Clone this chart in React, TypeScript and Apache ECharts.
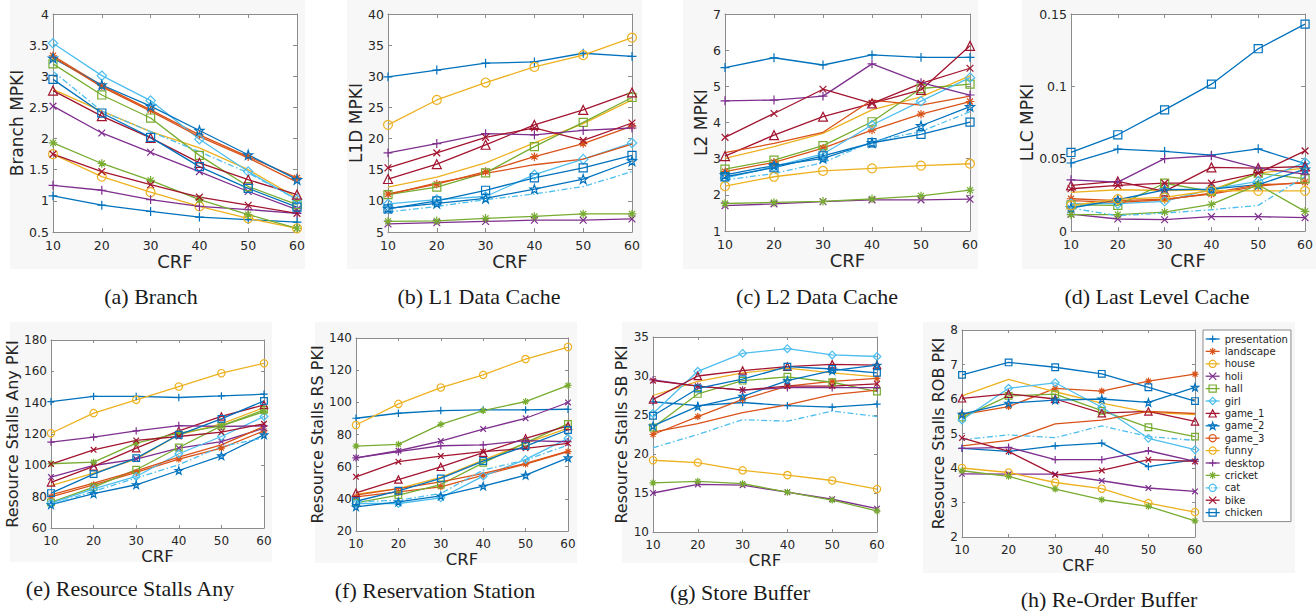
import React, { useEffect, useRef } from 'react';
import * as echarts from 'echarts';

// ---------------- DATA ----------------
const CRF = [10, 20, 30, 40, 50, 60];

const VIDEOS = [
  'presentation', 'landscape', 'house', 'holi', 'hall', 'girl', 'game_1', 'game_2',
  'game_3', 'funny', 'desktop', 'cricket', 'cat', 'bike', 'chicken',
];

// rows follow VIDEOS order
const branchMPKI = [
  [1.08, 0.93, 0.83, 0.74, 0.70, 0.66],
  [3.33, 2.85, 2.46, 2.06, 1.71, 1.37],
  [2.79, 2.44, 2.11, 1.85, 1.50, 1.05],
  [2.52, 2.09, 1.78, 1.47, 1.15, 0.86],
  [3.20, 2.70, 2.33, 1.73, 1.23, 0.94],
  [3.53, 3.01, 2.61, 1.99, 1.47, 1.02],
  [2.77, 2.36, 2.01, 1.61, 1.34, 1.10],
  [3.29, 2.86, 2.52, 2.13, 1.74, 1.34],
  [3.31, 2.83, 2.44, 2.03, 1.69, 1.30],
  [1.75, 1.39, 1.14, 0.91, 0.72, 0.56],
  [1.25, 1.17, 1.02, 0.91, 0.86, 0.80],
  [1.93, 1.60, 1.33, 1.02, 0.78, 0.56],
  [3.08, 2.44, 2.11, 1.79, 1.45, 1.02],
  [1.75, 1.47, 1.26, 1.06, 0.93, 0.80],
  [2.95, 2.41, 2.02, 1.55, 1.20, 0.90],
];

const l1dMPKI = [
  [29.9, 31.0, 32.1, 32.3, 33.7, 33.2],
  [11.1, 12.7, 14.7, 17.1, 19.2, 22.0],
  [12.2, 13.8, 16.1, 19.3, 22.4, 26.2],
  [6.3, 6.5, 6.7, 6.9, 6.9, 7.1],
  [11.0, 12.2, 14.5, 18.7, 22.6, 26.6],
  [9.5, 10.2, 10.7, 14.2, 16.7, 19.3],
  [13.5, 15.9, 19.0, 22.2, 24.6, 27.4],
  [8.8, 9.6, 10.4, 11.9, 13.5, 16.4],
  [11.0, 12.9, 14.4, 15.8, 16.7, 19.1],
  [22.2, 26.2, 29.0, 31.5, 33.4, 36.2],
  [17.7, 19.2, 20.8, 20.6, 21.3, 21.7],
  [6.7, 6.8, 7.2, 7.5, 7.9, 7.9],
  [8.2, 9.1, 10.2, 11.1, 12.3, 14.7],
  [15.3, 17.7, 20.2, 21.7, 19.7, 22.5],
  [8.7, 10.0, 11.7, 13.7, 15.3, 17.3],
];

const l2MPKI = [
  [5.52, 5.79, 5.59, 5.87, 5.80, 5.80],
  [2.64, 2.90, 3.29, 3.79, 4.23, 4.58],
  [3.01, 3.33, 3.70, 4.35, 4.71, 5.29],
  [1.70, 1.75, 1.81, 1.86, 1.86, 1.88],
  [2.71, 2.96, 3.36, 4.02, 4.94, 5.06],
  [2.46, 2.78, 3.13, 3.93, 4.59, 5.24],
  [3.07, 3.65, 4.16, 4.53, 4.90, 6.12],
  [2.55, 2.81, 3.01, 3.44, 3.91, 4.44],
  [3.17, 3.42, 3.73, 4.62, 4.48, 4.73],
  [2.24, 2.50, 2.66, 2.73, 2.81, 2.86],
  [4.60, 4.62, 4.73, 5.62, 5.10, 4.76],
  [1.76, 1.79, 1.82, 1.89, 1.97, 2.13],
  [2.41, 2.59, 2.89, 3.47, 3.75, 4.30],
  [3.59, 4.25, 4.92, 4.53, 5.08, 5.50],
  [2.50, 2.75, 3.08, 3.44, 3.67, 4.01],
];

const llcMPKI = [
  [0.047, 0.0566, 0.055, 0.0524, 0.0568, 0.0465],
  [0.0223, 0.021, 0.022, 0.0255, 0.031, 0.0338],
  [0.0267, 0.0285, 0.028, 0.0285, 0.040, 0.0435],
  [0.0117, 0.0083, 0.0078, 0.0099, 0.0099, 0.0092],
  [0.018, 0.0177, 0.033, 0.0274, 0.040, 0.036],
  [0.0189, 0.0189, 0.0205, 0.029, 0.0343, 0.0474],
  [0.0315, 0.0343, 0.0274, 0.044, 0.0435, 0.0446],
  [0.0159, 0.0216, 0.0285, 0.029, 0.032, 0.0428],
  [0.021, 0.0198, 0.0216, 0.0262, 0.032, 0.0331],
  [0.0177, 0.022, 0.0232, 0.028, 0.0278, 0.0278],
  [0.0354, 0.0338, 0.050, 0.052, 0.0435, 0.0393],
  [0.0113, 0.0113, 0.0131, 0.0184, 0.032, 0.0136],
  [0.0159, 0.0106, 0.0124, 0.0147, 0.0177, 0.0377],
  [0.0292, 0.0315, 0.0331, 0.0331, 0.040, 0.0554],
  [0.0543, 0.0665, 0.0837, 0.1015, 0.126, 0.143],
];

const stallsAnyPKI = [
  [140.7, 144.0, 144.0, 143.3, 144.3, 145.4],
  [79.8, 87.6, 95.5, 104.0, 111.0, 122.0],
  [87.0, 95.0, 104.0, 119.5, 126.5, 136.9],
  [92.5, 99.9, 104.0, 111.0, 115.2, 123.7],
  [76.4, 86.1, 97.2, 111.4, 125.2, 135.4],
  [75.9, 84.9, 92.9, 107.4, 118.4, 131.2],
  [89.1, 99.3, 111.0, 122.0, 131.2, 138.6],
  [74.9, 81.9, 87.6, 96.7, 106.1, 119.5],
  [81.2, 88.7, 96.5, 105.2, 113.1, 124.8],
  [120.5, 133.3, 141.8, 150.3, 158.8, 165.1],
  [114.8, 118.0, 122.0, 125.4, 124.8, 125.2],
  [101.0, 102.0, 114.2, 120.5, 125.2, 134.3],
  [74.9, 83.4, 91.9, 100.4, 112.0, 117.5],
  [100.8, 109.9, 115.9, 118.4, 121.2, 126.5],
  [82.3, 94.4, 104.6, 119.5, 129.7, 141.1],
];

const stallsRSPKI = [
  [90.1, 93.2, 94.9, 95.3, 95.3, 95.7],
  [41.2, 44.3, 47.5, 54.7, 61.6, 69.3],
  [42.9, 46.4, 53.3, 64.1, 74.5, 83.9],
  [65.5, 69.9, 75.9, 83.4, 90.1, 99.9],
  [37.5, 42.3, 48.9, 62.4, 74.9, 86.6],
  [37.1, 37.1, 40.6, 54.1, 64.5, 77.6],
  [43.7, 52.0, 59.9, 68.7, 77.6, 85.3],
  [35.0, 38.1, 41.8, 47.9, 54.7, 65.5],
  [42.3, 46.4, 50.6, 55.8, 62.0, 69.7],
  [85.9, 99.0, 109.2, 117.1, 126.9, 134.4],
  [65.5, 69.3, 73.0, 73.5, 76.2, 75.5],
  [72.8, 73.9, 86.3, 94.9, 100.5, 110.5],
  [38.1, 39.1, 43.3, 57.9, 64.1, 73.5],
  [53.7, 63.1, 66.6, 69.3, 71.4, 74.5],
  [38.5, 45.0, 52.7, 63.5, 72.8, 82.8],
];

const stallsSBPKI = [
  [26.7, 26.2, 26.6, 26.2, 26.0, 26.4],
  [22.5, 24.8, 27.0, 28.7, 29.3, 29.7],
  [27.5, 29.3, 30.4, 31.0, 30.4, 29.9],
  [15.0, 16.1, 16.0, 15.1, 14.2, 13.0],
  [23.4, 27.7, 29.4, 29.9, 29.2, 28.0],
  [25.2, 30.6, 32.9, 33.5, 32.7, 32.5],
  [27.0, 30.0, 30.7, 31.2, 31.5, 31.4],
  [23.6, 26.1, 27.4, 29.4, 30.7, 31.4],
  [22.8, 23.9, 25.3, 26.3, 27.6, 28.2],
  [19.2, 18.9, 17.9, 17.3, 16.6, 15.5],
  [29.5, 28.7, 28.2, 28.5, 28.5, 28.5],
  [16.3, 16.5, 16.2, 15.1, 14.1, 12.7],
  [20.8, 22.5, 24.4, 24.2, 25.5, 24.8],
  [29.4, 28.7, 28.2, 28.7, 28.7, 29.0],
  [24.9, 28.4, 29.6, 31.2, 30.9, 30.4],
];

const stallsROBPKI = [
  [4.57, 4.48, 4.64, 4.72, 4.04, 4.24],
  [5.55, 5.78, 6.31, 6.23, 6.52, 6.72],
  [6.09, 6.57, 6.21, 5.88, 5.61, 5.55],
  [3.83, 3.82, 3.82, 3.63, 3.42, 3.32],
  [5.46, 6.09, 6.14, 5.66, 5.18, 4.91],
  [5.39, 6.31, 6.47, 5.76, 4.86, 4.53],
  [6.02, 6.15, 6.00, 5.59, 5.64, 5.35],
  [5.56, 5.88, 5.97, 6.00, 5.90, 6.34],
  [4.64, 4.80, 5.28, 5.39, 5.64, 5.58],
  [4.00, 3.87, 3.58, 3.40, 2.98, 2.72],
  [4.57, 4.60, 4.24, 4.24, 4.50, 4.19],
  [3.92, 3.76, 3.39, 3.08, 2.89, 2.47],
  [4.82, 4.96, 4.88, 5.22, 4.91, 4.80],
  [4.87, 4.48, 3.80, 3.93, 4.24, 4.19],
  [6.70, 7.06, 6.92, 6.73, 6.34, 5.94],
];

// ---------------- STYLE ----------------
const BLUE = '#0072BD';
const ORANGE = '#D95319';
const YELLOW = '#EDB120';
const PURPLE = '#7E2F8E';
const GREEN = '#77AC30';
const LBLUE = '#4DBEEE';
const RED = '#A2142F';
const CLEAR = 'rgba(255,255,255,0)';

function starPath() {
  const pts: string[] = [];
  for (let k = 0; k < 10; k++) {
    const r = k % 2 === 0 ? 10 : 3.9;
    const a = -Math.PI / 2 + (k * Math.PI) / 5;
    pts.push((r * Math.cos(a)).toFixed(2) + ',' + (r * Math.sin(a)).toFixed(2));
  }
  return 'path://M' + pts.join('L') + 'Z';
}

const SYM: Record<string, { symbol: string; scale: number }> = {
  plus: { symbol: 'path://M0,-10L0,10M-10,0L10,0', scale: 1.05 },
  star6: { symbol: 'path://M0,-10L0,10M-10,0L10,0M-7,-7L7,7M-7,7L7,-7', scale: 1.0 },
  cross: { symbol: 'path://M-7,-7L7,7M-7,7L7,-7', scale: 0.8 },
  square: { symbol: 'rect', scale: 0.95 },
  diamond: { symbol: 'diamond', scale: 1.1 },
  triangle: { symbol: 'triangle', scale: 1.05 },
  penta: { symbol: starPath(), scale: 1.05 },
  circle: { symbol: 'circle', scale: 1.05 },
  none: { symbol: 'none', scale: 1 },
};

const SERIES_STYLE = [
  { color: BLUE, marker: 'plus', dash: 'solid' },
  { color: ORANGE, marker: 'star6', dash: 'solid' },
  { color: YELLOW, marker: 'none', dash: 'solid' },
  { color: PURPLE, marker: 'cross', dash: 'solid' },
  { color: GREEN, marker: 'square', dash: 'solid' },
  { color: LBLUE, marker: 'diamond', dash: 'solid' },
  { color: RED, marker: 'triangle', dash: 'solid' },
  { color: BLUE, marker: 'penta', dash: 'solid' },
  { color: ORANGE, marker: 'none', dash: 'solid' },
  { color: YELLOW, marker: 'circle', dash: 'solid' },
  { color: PURPLE, marker: 'plus', dash: 'solid' },
  { color: GREEN, marker: 'star6', dash: 'solid' },
  { color: LBLUE, marker: 'none', dash: 'dashdot' },
  { color: RED, marker: 'cross', dash: 'solid' },
  { color: BLUE, marker: 'square', dash: 'solid' },
];

const ROW_STYLE = [
  { tickFont: 12.5, nameFont: 17, crfFont: 18, symbolSize: 8.5, tickLen: 4, crfGap: 18, xMargin: 7 },
  { tickFont: 12, nameFont: 16, crfFont: 16.5, symbolSize: 7, tickLen: 3, crfGap: 17, xMargin: 7 },
];

const PANELS = [
  { data: branchMPKI, yName: 'Branch MPKI', min: 0.5, max: 4, interval: 0.5, caption: '(a) Branch', row: 0,
    left: 53, top: 14, width: 244, height: 218, nameGap: 22, cx: 151, cy: 296 },
  { data: l1dMPKI, yName: 'L1D MPKI', min: 5, max: 40, interval: 5, caption: '(b) L1 Data Cache', row: 0,
    left: 388, top: 14, width: 244, height: 218, nameGap: 19, cx: 479, cy: 296 },
  { data: l2MPKI, yName: 'L2 MPKI', min: 1, max: 7, interval: 1, caption: '(c) L2 Data Cache', row: 0,
    left: 725, top: 14, width: 245, height: 217, nameGap: 12, cx: 817, cy: 296 },
  { data: llcMPKI, yName: 'LLC MPKI', min: 0, max: 0.15, interval: 0.05, caption: '(d) Last Level Cache', row: 0,
    left: 1071, top: 14, width: 235, height: 217, nameGap: 31, cx: 1157, cy: 296 },
  { data: stallsAnyPKI, yName: 'Resource Stalls Any PKI', min: 60, max: 180, interval: 20, caption: '(e) Resource Stalls Any', row: 1,
    left: 51, top: 340, width: 213, height: 188, nameGap: 22, cx: 130, cy: 588 },
  { data: stallsRSPKI, yName: 'Resource Stalls RS PKI', min: 20, max: 140, interval: 20, caption: '(f) Reservation Station', row: 1,
    left: 356, top: 338, width: 212, height: 193, nameGap: 22, cx: 435, cy: 590 },
  { data: stallsSBPKI, yName: 'Resource Stalls SB PKI', min: 10, max: 35, interval: 5, caption: '(g) Store Buffer', row: 1,
    left: 653, top: 337, width: 224, height: 195, nameGap: 15, cx: 740, cy: 592 },
  { data: stallsROBPKI, yName: 'Resource Stalls ROB PKI', min: 2, max: 8, interval: 1, caption: '(h) Re-Order Buffer', row: 1,
    left: 962, top: 330, width: 233, height: 207, nameGap: 13, cx: 1109, cy: 599 },
];

// faint grey figure backgrounds behind each panel [x, y, w, h]
const PANEL_BG = [
  [10, 0, 295, 269], [347, 0, 295, 269], [683, 0, 295, 269], [1022, 0, 294, 269],
  [10, 322, 262, 240], [315, 322, 262, 241], [622, 322, 256, 241], [923, 322, 372, 251],
];

const AXIS_COLOR = '#8c8c8c';
const TEXT_COLOR = '#262626';
const SANS = 'DejaVu Sans';

function buildOption() {
  const grid: any[] = [];
  const xAxis: any[] = [];
  const yAxis: any[] = [];
  const series: any[] = [];
  const graphic: any[] = [];

  PANEL_BG.forEach((r) => {
    graphic.push({
      type: 'rect', z: -10, silent: true,
      shape: { x: r[0], y: r[1], width: r[2], height: r[3] },
      style: { fill: '#f7f7f8' },
    });
  });

  PANELS.forEach((p, i) => {
    const rs = ROW_STYLE[p.row];
    grid.push({ left: p.left, top: p.top, width: p.width, height: p.height, show: true, backgroundColor: '#ffffff', borderWidth: 0 });
    const axisLine = { show: true, onZero: false, lineStyle: { color: AXIS_COLOR, width: 1 } };
    const axisTick = { show: true, inside: true, length: rs.tickLen, lineStyle: { color: AXIS_COLOR, width: 1 } };
    const xLabel = { color: TEXT_COLOR, fontSize: rs.tickFont, fontFamily: SANS, margin: rs.xMargin, lineHeight: 12 };
    const yLabel = { color: TEXT_COLOR, fontSize: rs.tickFont, fontFamily: SANS, margin: 4, lineHeight: 10 };
    xAxis.push({
      type: 'value', gridIndex: i, min: 10, max: 60, interval: 10, position: 'bottom',
      axisLine, axisTick, axisLabel: xLabel, splitLine: { show: false },
      name: 'CRF', nameLocation: 'middle', nameGap: rs.crfGap,
      nameTextStyle: { color: TEXT_COLOR, fontSize: rs.crfFont, fontFamily: SANS },
    });
    xAxis.push({
      type: 'value', gridIndex: i, min: 10, max: 60, interval: 10, position: 'top',
      axisLine, axisTick, axisLabel: { show: false }, splitLine: { show: false },
    });
    yAxis.push({
      type: 'value', gridIndex: i, min: p.min, max: p.max, interval: p.interval, position: 'left',
      axisLine, axisTick, axisLabel: yLabel, splitLine: { show: false },
      name: p.yName, nameLocation: 'middle', nameGap: p.nameGap,
      nameTextStyle: { color: TEXT_COLOR, fontSize: rs.nameFont, fontFamily: SANS },
    });
    yAxis.push({
      type: 'value', gridIndex: i, min: p.min, max: p.max, interval: p.interval, position: 'right',
      axisLine, axisTick, axisLabel: { show: false }, splitLine: { show: false },
    });

    VIDEOS.forEach((name, k) => {
      const st = SERIES_STYLE[k];
      const sym = SYM[st.marker];
      series.push({
        type: 'line',
        name,
        xAxisIndex: 2 * i,
        yAxisIndex: 2 * i,
        data: CRF.map((x, j) => [x, p.data[k][j]]),
        symbol: sym.symbol,
        symbolSize: rs.symbolSize * sym.scale,
        showSymbol: st.marker !== 'none',
        lineStyle: {
          color: st.color,
          width: 1.3,
          type: st.dash === 'dashdot' ? [6, 2.5, 1.5, 2.5] : 'solid',
        },
        itemStyle: { color: CLEAR, borderColor: st.color, borderWidth: 1.2 },
        emphasis: { disabled: true },
        silent: true,
      });
    });

    graphic.push({
      type: 'text', x: p.cx, y: p.cy,
      style: {
        text: p.caption, fill: '#1a1a1a', font: '22px "Liberation Serif"',
        textAlign: 'center', textVerticalAlign: 'middle',
      },
    });
  });

  const legendData = VIDEOS.map((name, k) => {
    const st = SERIES_STYLE[k];
    return {
      name,
      itemStyle: { color: CLEAR, borderColor: st.color, borderWidth: 1.2 },
      lineStyle: {
        color: st.color, width: 1.3,
        type: st.dash === 'dashdot' ? [4, 1.5, 1, 1.5] : 'solid',
      },
    };
  });

  return {
    animation: false,
    backgroundColor: '#ffffff',
    grid,
    xAxis,
    yAxis,
    series,
    graphic,
    legend: {
      data: legendData,
      orient: 'vertical',
      left: 1203,
      top: 330,
      padding: [3, 3, 3, 2],
      itemGap: 0.4,
      itemWidth: 14,
      itemHeight: 9,
      itemTextGap: 2,
      borderColor: '#8c8c8c',
      borderWidth: 1,
      backgroundColor: '#ffffff',
      textStyle: { fontSize: 10, fontFamily: SANS, color: TEXT_COLOR, lineHeight: 12 },
      selectedMode: false,
    },
  };
}

export default function App() {
  const ref = useRef<HTMLDivElement>(null);
  useEffect(() => {
    if (!ref.current) return;
    const chart = echarts.init(ref.current, null, { renderer: 'svg' });
    chart.setOption(buildOption() as any);
    return () => chart.dispose();
  }, []);
  return (
    <div
      ref={ref}
      style={{ position: 'fixed', left: 0, top: 0, width: 1316, height: 611, background: '#fff' }}
    />
  );
}
